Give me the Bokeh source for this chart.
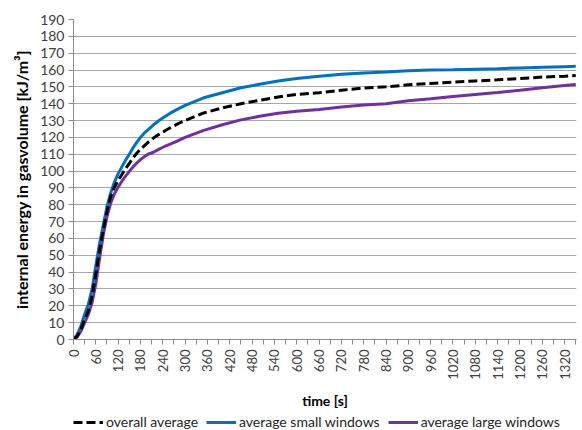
import math
from bokeh.plotting import figure
from bokeh.layouts import column
from bokeh.models import Range1d, FixedTicker, Legend, LegendItem
from bokeh.embed import file_html
from bokeh.resources import INLINE

time_s = [0, 10, 20, 30, 40, 50, 60, 70, 80, 90, 100,
          110, 120, 130, 140, 150, 160, 170, 180, 190, 200,
          215, 230, 245, 260, 280, 300,
          350, 400, 450, 500, 550, 600, 660, 720, 780, 840, 900, 960, 1020, 1080, 1140, 1200,
          1260, 1320, 1350]
small_windows = [0, 3, 8, 15, 21, 30, 44, 57, 68, 79, 87,
                 93.5, 98.5, 102.5, 106.5, 110, 113.8, 117, 120, 122.5, 124.5,
                 127.5, 130, 132.3, 134.4, 136.8, 139,
                 143.5, 146.5, 149.5, 151.5, 153.5, 155, 156.3, 157.5, 158.3, 158.8, 159.5, 160, 160.2,
                 160.5, 160.8, 161.2, 161.6, 162, 162.2]
overall_avg = [0, 2, 6, 12, 17, 26, 39, 53, 65, 76, 85,
               90.5, 94.5, 98, 101.5, 104.5, 107.8, 110.6, 113, 115, 117,
               119.6, 121.8, 123.8, 125.7, 128, 130,
               134.5, 137.5, 140, 142, 144, 145.5, 146.5, 148, 149.3, 150, 151.2, 152, 152.8,
               153.5, 154.2, 155, 155.8, 156.3, 156.7]
large_windows = [0, 1.5, 5, 10, 15, 22, 33, 48, 62, 73, 81,
                 86.5, 90.5, 94, 97, 99.8, 102.5, 104.8, 106.8, 108.5, 110,
                 111.2, 113, 114.6, 116, 118, 120,
                 124.2, 127.5, 130.4, 132.5, 134.3, 135.5, 136.6, 138, 139.3, 140, 141.8, 143, 144.3,
                 145.5, 146.6, 148, 149.5, 150.8, 151.4]
series_labels = ["overall average", "average small windows", "average large windows"]
x_ticks = list(range(0, 1321, 60))
y_ticks = list(range(0, 191, 10))

FONT = "Lato"
GRID = "#A6A6A6"
AXIS = "#8C8C8C"
C_AVG, C_SMALL, C_LARGE = "black", "#0070C0", "#7030A0"
DASH = "9 4"

p = figure(width=582, height=411, output_backend="svg", toolbar_location=None,
           x_range=Range1d(0, 1352), y_range=Range1d(0, 190),
           min_border_left=73, min_border_right=6, min_border_top=19, min_border_bottom=66)
p.outline_line_color = None
p.background_fill_color = "white"
p.border_fill_color = "white"

p.line(time_s, small_windows, line_color=C_SMALL, line_width=3)
p.line(time_s, large_windows, line_color=C_LARGE, line_width=3)
p.line(time_s, overall_avg, line_color=C_AVG, line_width=3, line_dash=DASH)

p.xgrid.grid_line_color = None
p.ygrid.grid_line_color = GRID
p.ygrid.grid_line_width = 1
p.ygrid.ticker = FixedTicker(ticks=y_ticks)

xa = p.xaxis[0]
xa.ticker = FixedTicker(ticks=x_ticks, minor_ticks=list(range(30, 1351, 60)))
xa.major_label_orientation = math.pi / 2
xa.axis_label = "time [s]"
xa.axis_label_text_font = FONT
xa.axis_label_text_font_style = "bold"
xa.axis_label_text_font_size = "14px"
xa.axis_label_text_color = "black"
xa.axis_label_standoff = 9
xa.major_label_text_font = FONT
xa.major_label_text_font_size = "13px"
xa.major_label_text_color = "#404040"
xa.axis_line_color = AXIS
xa.major_tick_line_color = AXIS
xa.minor_tick_line_color = AXIS
xa.major_tick_out = 5
xa.major_tick_in = 0
xa.minor_tick_out = 5
xa.minor_tick_in = 0
xa.major_label_standoff = 5

ya = p.yaxis[0]
ya.ticker = FixedTicker(ticks=y_ticks)
ya.axis_label = "internal energy in gasvolume [kJ/m³]"
ya.axis_label_text_font = FONT
ya.axis_label_text_font_style = "bold"
ya.axis_label_text_font_size = "16px"
ya.axis_label_text_color = "black"
ya.axis_label_standoff = 6
ya.major_label_text_font = FONT
ya.major_label_text_font_size = "14px"
ya.major_label_text_color = "#404040"
ya.axis_line_color = AXIS
ya.major_tick_line_color = AXIS
ya.minor_tick_line_color = None
ya.major_tick_out = 5
ya.major_tick_in = 0
ya.major_label_standoff = 4

# legend strip below the chart (proxy lines lie outside its visible range)
lg = figure(width=582, height=19, output_backend="svg", toolbar_location=None,
            x_range=Range1d(-2, -1), y_range=Range1d(-2, -1),
            x_axis_location=None, y_axis_location=None,
            min_border_left=0, min_border_right=0, min_border_top=0, min_border_bottom=0)
lg.grid.grid_line_color = None
lg.outline_line_color = None
l_avg = lg.line(time_s, overall_avg, line_color=C_AVG, line_width=3, line_dash=DASH)
l_small = lg.line(time_s, small_windows, line_color=C_SMALL, line_width=3)
l_large = lg.line(time_s, large_windows, line_color=C_LARGE, line_width=3)

legend = Legend(items=[
    LegendItem(label=series_labels[0], renderers=[l_avg]),
    LegendItem(label=series_labels[1], renderers=[l_small]),
    LegendItem(label=series_labels[2], renderers=[l_large]),
], orientation="horizontal", location=(0, 0))
legend.border_line_color = None
legend.background_fill_alpha = 0
legend.label_text_font = FONT
legend.label_text_font_size = "14px"
legend.label_text_color = "#262626"
legend.glyph_width = 30
legend.label_standoff = 3
legend.spacing = 8
legend.padding = 0
legend.margin = 0
legend.glyph_height = 14
legend.label_height = 14
lg.add_layout(legend, "center")

open("out.html", "w").write(file_html(column(p, lg, spacing=0), INLINE))
